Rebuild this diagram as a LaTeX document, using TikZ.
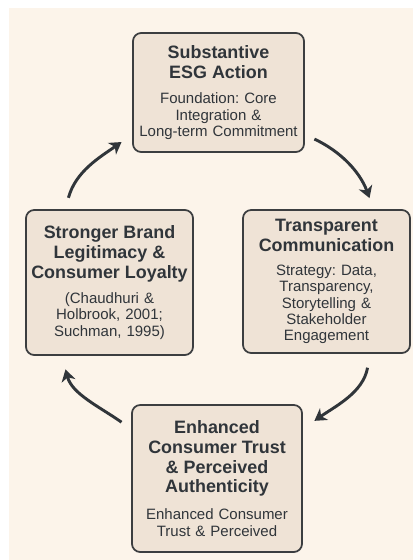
\documentclass[tikz,border=0pt]{standalone}
\usepackage{fontspec}
\setmainfont{Liberation Sans}
\usepackage{tikz}
\usetikzlibrary{arrows.meta,positioning,backgrounds}

\definecolor{paper}{HTML}{FCF4EA}
\definecolor{boxfill}{HTML}{EFE3D6}
\definecolor{boxline}{HTML}{3C3E40}
\definecolor{ink}{HTML}{30353A}

\newcommand{\headfont}{\fontsize{15.3}{16.8}\selectfont\bfseries}
\newcommand{\notefont}{\fontsize{12.8}{13.9}\selectfont}
\frenchspacing

\begin{document}
\begin{tikzpicture}
[font=\notefont, text=ink,
% STYLES
% The stage style is used for the four boxes of the cycle
stage/.style={rectangle, rounded corners=7pt, draw=boxline, line width=1.5pt, fill=boxfill, inner xsep=0pt, inner ysep=2pt, align=center},
% The flow style is used for the curved arrows between stages
flow/.style={color=ink, line width=2.5pt, -{Stealth[length=10pt,width=12pt,inset=3pt]}}]

% Page and background
\useasboundingbox (0,0) rectangle (12.39,-16.8);
\fill[white] (0,0) rectangle (12.39,-16.8);
\fill[paper] (0.27,-0.24) rectangle (12.39,-16.8);

% Draw stages
\node [stage, text width=5.13cm, minimum height=3.57cm] (esg) at (6.555,-2.775)
{{\headfont Substantive\\ESG Action\par}\vspace{8pt}
Foundation: Core\\Integration \&\\Long-term Commitment};
\node [stage, text width=5.01cm, minimum height=4.29cm] (comm) at (9.795,-8.445)
{{\headfont Transparent\\Communication\par}\vspace{7pt}
Strategy: Data,\\Transparency,\\Storytelling \&\\Stakeholder\\Engagement};
\node [stage, text width=5.1cm, minimum height=4.41cm] (trust) at (6.51,-14.355)
{{\headfont Enhanced\\Consumer Trust\\\& Perceived\\Authenticity\par}\vspace{9pt}
Enhanced Consumer\\Trust \& Perceived};
\node [stage, text width=5.01cm, minimum height=4.35cm] (brand) at (3.285,-8.475)
{{\headfont Stronger Brand\\Legitimacy \&\\Consumer Loyalty\par}\vspace{8pt}
(Chaudhuri \&\\Holbrook, 2001;\\Suchman, 1995)};

% Draw the links between stages
\path[flow]
(esg.334) edge[out=-25, in=110, shorten <=9pt, shorten >=10pt] (comm.57)
(comm.301) edge[out=-100, in=35, shorten <=12pt, shorten >=12pt] (trust.30)
(trust.150) edge[out=145, in=-75, shorten <=10pt, shorten >=12pt] (brand.237)
(brand.121) edge[out=75, in=215, shorten <=10pt, shorten >=11pt] (esg.206);

\end{tikzpicture}
\end{document}
